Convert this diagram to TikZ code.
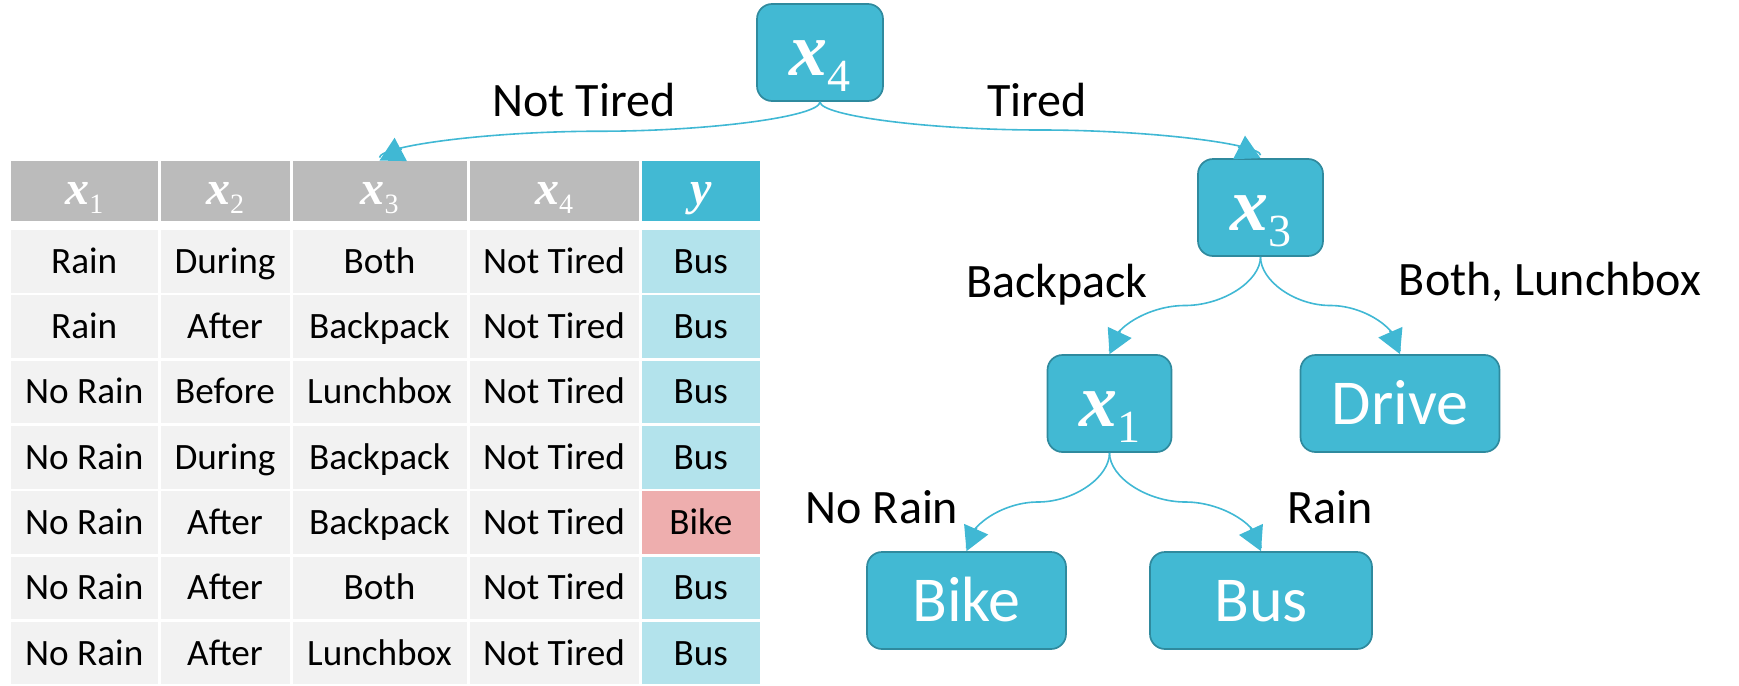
\documentclass[tikz,border=0pt]{standalone}
\usepackage{fontspec}
\setmainfont{Carlito}
\newfontfamily\serifvar{Liberation Serif}
\usetikzlibrary{arrows.meta,calc,decorations.markings}

\definecolor{boxfill}{HTML}{42B9D3}
\definecolor{boxline}{HTML}{2F8A9E}
\definecolor{linkcol}{HTML}{40B8D4}
\definecolor{headgray}{HTML}{BBBBBB}
\definecolor{cellgray}{HTML}{F2F2F2}
\definecolor{cellblue}{HTML}{B3E3EC}
\definecolor{cellpink}{HTML}{EEAEAE}

% variable with index: #1 letter, #2 letter size, #3 index size, #4 index
\newcommand\fvar[4]{%
  {\serifvar\fontsize{#2}{#2}\selectfont\bfseries\itshape #1}%
  {\serifvar\fontsize{#3}{#3}\selectfont\raisebox{-0.34em}{#4}}}

% curved connector from #1 to #2; #3 names the point where the arrow head starts
\newcommand\linkto[3]{%
  \draw[linkline, postaction={decorate},
        decoration={markings, mark=at position -13pt with {\coordinate (#3);}}]
    (#1) to (#2);
  \draw[linktip] (#3) -- (#2);}

\begin{document}
\begin{tikzpicture}[x=0.5pt,y=-0.5pt,
  treebox/.style={draw=boxline, line width=0.85pt, fill=boxfill,
    rounded corners=7.5pt, inner sep=0pt, minimum height=48.5pt,
    text=white, font=\fontsize{32}{38}\selectfont,
    text height=20.6pt, text depth=0pt},
  varbox/.style={treebox, text height=23pt},
  linkline/.style={draw=linkcol, line width=0.8pt, shorten >=1.5pt,
    to path={let \p1=(\tikztostart), \p2=(\tikztotarget) in
      .. controls (\x1,{\y1+(\y2-\y1)/4}) and ({\x1+(\x2-\x1)/4},{(\y1+\y2)/2})
      .. ({(\x1+\x2)/2},{(\y1+\y2)/2})
      .. controls ({\x1+3*(\x2-\x1)/4},{(\y1+\y2)/2}) and (\x2,{\y1+3*(\y2-\y1)/4})
      .. (\x2,\y2) \tikztonodes}},
  linktip/.style={draw=linkcol, fill=linkcol, line width=0.8pt,
    -{Triangle[length=12pt,width=13pt]}},
  edgelabel/.style={anchor=base, inner sep=0pt, font=\fontsize{24}{28}\selectfont},
  cell/.style={inner sep=0pt, minimum height=31.25pt,
    text height=12pt, text depth=0pt, font=\fontsize{18.6}{22}\selectfont},
  headcell/.style={cell, minimum height=30pt, fill=headgray, text=white,
    text height=13pt},
]
\useasboundingbox (0,0) rectangle (1739,685);

% ---- table header ----
\node[headcell, minimum width=73.25pt] (h1) at (84.25,191) {\fvar{x}{24}{14}{1}};
\node[headcell, minimum width=64.5pt]  (h2) at (225,191)   {\fvar{x}{24}{14}{2}};
\node[headcell, minimum width=87pt]    (h3) at (379.5,191) {\fvar{x}{24}{14}{3}};
\node[headcell, minimum width=84.5pt]  (h4) at (554,191)   {\fvar{x}{24}{14}{4}};
\node[headcell, minimum width=59.25pt, fill=boxfill] (h5) at (700.75,191)
  {{\serifvar\fontsize{24}{24}\selectfont\bfseries\itshape y}};

% ---- table body ----
\foreach \r/\a/\b/\c/\d/\e/\f in {
    1/Rain/During/Both/Not Tired/Bus/cellblue,
    2/Rain/After/Backpack/Not Tired/Bus/cellblue,
    3/No Rain/Before/Lunchbox/Not Tired/Bus/cellblue,
    4/No Rain/During/Backpack/Not Tired/Bus/cellblue,
    5/No Rain/After/Backpack/Not Tired/Bike/cellpink,
    6/No Rain/After/Both/Not Tired/Bus/cellblue,
    7/No Rain/After/Lunchbox/Not Tired/Bus/cellblue}{
  \node[cell, fill=cellgray, minimum width=73.25pt] (c\r-1) at (84.25,{196.05+65.3*\r}) {\a};
  \node[cell, fill=cellgray, minimum width=64.5pt]  (c\r-2) at (225,{196.05+65.3*\r})   {\b};
  \node[cell, fill=cellgray, minimum width=87pt]    (c\r-3) at (379.5,{196.05+65.3*\r}) {\c};
  \node[cell, fill=cellgray, minimum width=84.5pt]  (c\r-4) at (554,{196.05+65.3*\r})   {\d};
  \node[cell, fill=\f, minimum width=59.25pt]       (c\r-5) at (700.75,{196.05+65.3*\r}) {\e};
}

% ---- decision tree ----
\node[varbox, minimum width=63pt]   (x4) at (820,52.5)     {\fvar{x}{38}{23}{4}};
\node[varbox, minimum width=62.5pt] (x3) at (1260.5,207.5) {\fvar{x}{38}{23}{3}};
\node[varbox, minimum width=62pt]   (x1) at (1109.5,403.5) {\fvar{x}{38}{23}{1}};
\node[treebox, minimum width=99.5pt] (drive) at (1400,403.5) {Drive};
\node[treebox, minimum width=99.5pt] (bike)  at (966.5,600.5) {Bike};
\node[treebox, minimum width=111pt]  (bus)   at (1261,600.5) {Bus};

\linkto{x4.south}{h3.north}{b43}
\linkto{x4.south}{x3.north}{b44}
\linkto{x3.south}{x1.north}{b31}
\linkto{x3.south}{drive.north}{b32}
\linkto{x1.south}{bike.north}{b11}
\linkto{x1.south}{bus.north}{b12}

% ---- branch labels ----
\node[edgelabel] (lnt) at (584,116.5) {Not Tired};
\node[edgelabel] (lt)  at (1037,116.5) {Tired};
\node[edgelabel] (lbp) at (1057,297) {Backpack};
\node[edgelabel] (lbl) at (1550,295) {Both, Lunchbox};
\node[edgelabel] (lnr) at (882,523) {No Rain};
\node[edgelabel] (lr)  at (1330,523) {Rain};
\end{tikzpicture}
\end{document}
